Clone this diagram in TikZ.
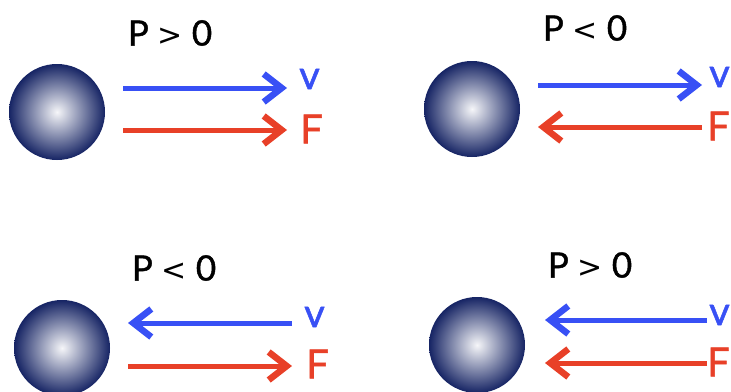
\documentclass[tikz,border=0pt]{standalone}
\usepackage{fontspec}
\setmainfont{Lato}[UprightFeatures={FakeBold=1.2}]
\newfontfamily\relfont{DejaVu Sans}
\usepackage{xcolor}
\usepackage{tikz}
\usetikzlibrary{arrows.meta, positioning, calc}

\definecolor{velblue}{RGB}{56,80,245}
\definecolor{forcered}{RGB}{232,64,40}
\definecolor{ballnavy}{RGB}{22,36,100}

\newcommand{\gtr}{{\relfont\fontsize{30}{34}\selectfont >}}
\newcommand{\lss}{{\relfont\fontsize{30}{34}\selectfont <}}

\tikzset{
  ball/.style={circle, minimum size=96pt, inner sep=0pt,
    shading=radial, inner color=white!96!ballnavy, outer color=ballnavy},
  power/.style={font=\fontsize{35}{38}\selectfont},
  vec/.style={line width=5pt, -{Straight Barb[length=18pt, width=28pt, line width=1.5pt 1]}},
  vlabel/.style={font=\fontsize{40}{44}\selectfont, text=velblue, inner sep=0pt},
  flabel/.style={font=\fontsize{40}{44}\selectfont, text=forcered, inner sep=0pt}
}

\begin{document}
\begin{tikzpicture}[x=1pt, y=-1pt]
\useasboundingbox (0,0) rectangle (731,391);

% top left: v and F both forward
\node[ball] (ball1) at (57,112) {};
\node[power] (p1) at (170,33) {P \gtr{} 0};
\node[vlabel, anchor=west] (v1) at (299,79) {v};
\node[flabel, anchor=west] (f1) at (300,129) {F};
\coordinate (v1a) at (123,88);  \coordinate (v1b) at (287,88);
\coordinate (f1a) at (123,130); \coordinate (f1b) at (287,130);
\draw[vec, velblue] (v1a) -- (v1b);
\draw[vec, forcered] (f1a) -- (f1b);

% top right: F against v
\node[ball] (ball2) at (472,109) {};
\node[power] (p2) at (585,28) {P \lss{} 0};
\node[vlabel, anchor=east] (v2) at (730,77) {v};
\node[flabel, anchor=east] (f2) at (730,126) {F};
\coordinate (v2a) at (538,85);  \coordinate (v2b) at (702,85);
\coordinate (f2a) at (702,127); \coordinate (f2b) at (538,127);
\draw[vec, velblue] (v2a) -- (v2b);
\draw[vec, forcered] (f2a) -- (f2b);

% bottom left: v against F
\node[ball] (ball3) at (62,348) {};
\node[power] (p3) at (174,268) {P \lss{} 0};
\node[vlabel, anchor=west] (v3) at (304,317) {v};
\node[flabel, anchor=west] (f3) at (306,364) {F};
\coordinate (v3a) at (292,323); \coordinate (v3b) at (128,323);
\coordinate (f3a) at (128,366); \coordinate (f3b) at (292,366);
\draw[vec, velblue] (v3a) -- (v3b);
\draw[vec, forcered] (f3a) -- (f3b);

% bottom right: v and F both backward
\node[ball] (ball4) at (477,345) {};
\node[power] (p4) at (590,265) {P \gtr{} 0};
\node[vlabel, anchor=east] (v4) at (730,315) {v};
\node[flabel, anchor=east] (f4) at (730,362) {F};
\coordinate (v4a) at (707,320); \coordinate (v4b) at (545,320);
\coordinate (f4a) at (707,363); \coordinate (f4b) at (545,363);
\draw[vec, velblue] (v4a) -- (v4b);
\draw[vec, forcered] (f4a) -- (f4b);
\end{tikzpicture}
\end{document}
